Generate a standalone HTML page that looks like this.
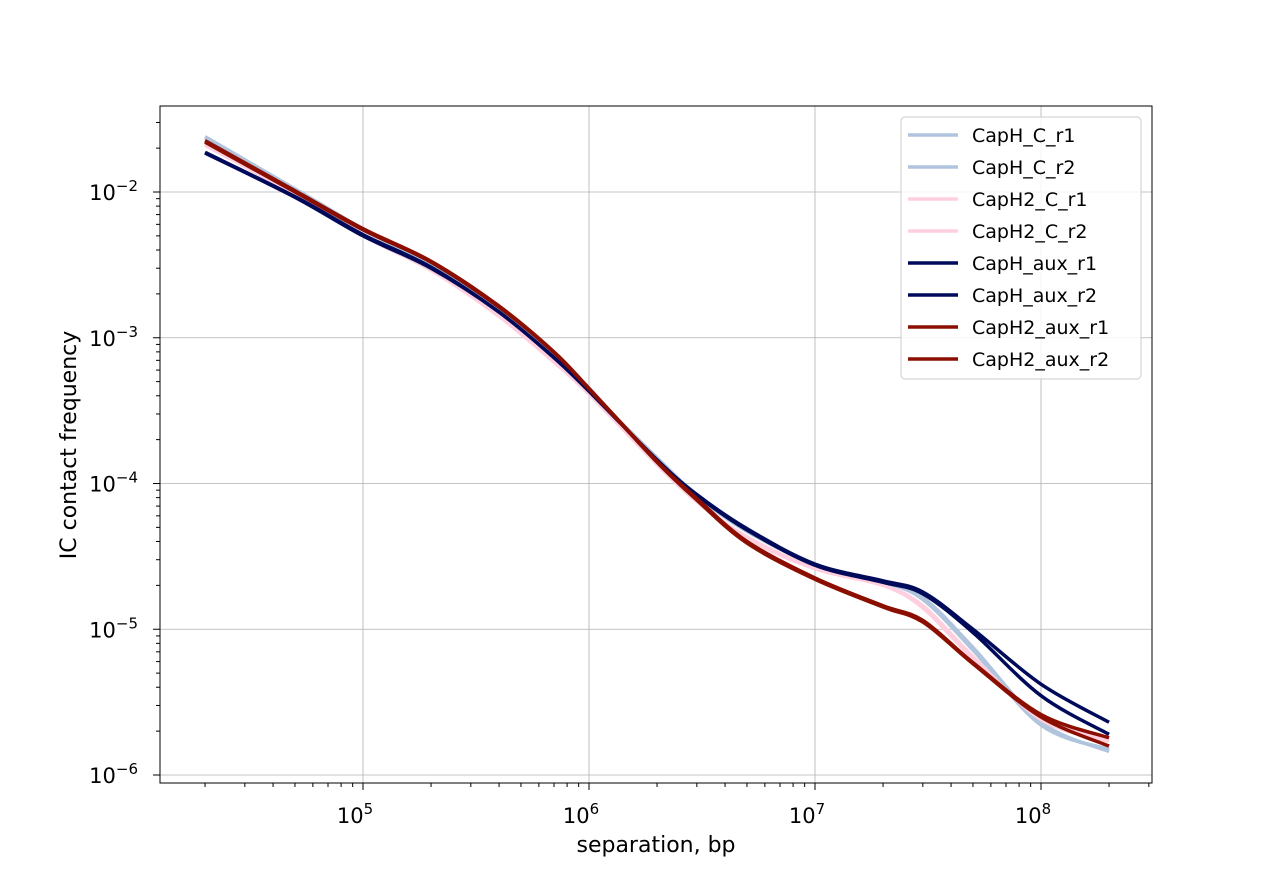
<!DOCTYPE html>
<html><head><meta charset="utf-8"><style>
body{margin:0;background:#fff;}
svg{font-family:"DejaVu Sans","Liberation Sans",sans-serif;}
</style></head><body>
<svg width="1280" height="880" viewBox="0 0 1280 880">
<g id="grid"></g>
<g id="series"></g>
<rect x="160" y="106" width="992" height="677" fill="none" stroke="#000" stroke-width="1"/>
<g id="axes"></g>
<text x="656" y="852" font-size="22" text-anchor="middle">separation, bp</text>
<text transform="translate(76,445) rotate(-90)" font-size="22" text-anchor="middle">IC contact frequency</text>
<g id="legend"></g>
</svg>
<script>
const seriesNames=["CapH_C_r1","CapH_C_r2","CapH2_C_r1","CapH2_C_r2","CapH_aux_r1","CapH_aux_r2","CapH2_aux_r1","CapH2_aux_r2"];
const seriesColors=["#b0c4de","#b0c4de","#ffcfdf","#ffcfdf","#000a5a","#000a5a","#8b0e00","#8b0e00"];
const separations=[2e4,5e4,1e5,2e5,4e5,7e5,1e6,2e6,3e6,5e6,1e7,2e7,3e7,5e7,1e8,2e8];
const capH_C_r1=[2.4e-2,1.05e-2,5.6e-3,3.2e-3,1.55e-3,7.4e-4,4.3e-4,1.5e-4,8.3e-5,4.7e-5,2.8e-5,2.1e-5,1.65e-5,7.5e-6,2.3e-6,1.45e-6];
const capH_C_r2=[2.35e-2,1.04e-2,5.5e-3,3.2e-3,1.55e-3,7.4e-4,4.3e-4,1.5e-4,8.2e-5,4.7e-5,2.8e-5,2.1e-5,1.6e-5,7.2e-6,2.2e-6,1.5e-6];
const capH2_C_r1=[2.1e-2,9.6e-3,5.0e-3,2.9e-3,1.4e-3,6.8e-4,4.1e-4,1.35e-4,7.5e-5,4.2e-5,2.6e-5,2.0e-5,1.45e-5,6.5e-6,2.4e-6,1.7e-6];
const capH2_C_r2=[2.15e-2,9.7e-3,5.1e-3,2.95e-3,1.45e-3,7.0e-4,4.2e-4,1.38e-4,7.6e-5,4.3e-5,2.65e-5,2.0e-5,1.4e-5,6.3e-6,2.5e-6,1.75e-6];
const capH_aux_r1=[1.85e-2,9.2e-3,5.0e-3,3.0e-3,1.5e-3,7.3e-4,4.3e-4,1.45e-4,8.4e-5,4.9e-5,2.8e-5,2.15e-5,1.8e-5,1.0e-5,4.2e-6,2.3e-6];
const capH_aux_r2=[1.87e-2,9.3e-3,5.1e-3,3.05e-3,1.5e-3,7.3e-4,4.3e-4,1.45e-4,8.3e-5,4.8e-5,2.75e-5,2.1e-5,1.75e-5,9.5e-6,3.5e-6,1.9e-6];
const capH2_aux_r1=[2.25e-2,1.02e-2,5.6e-3,3.35e-3,1.65e-3,8.0e-4,4.5e-4,1.42e-4,7.9e-5,4.0e-5,2.25e-5,1.45e-5,1.15e-5,5.9e-6,2.6e-6,1.8e-6];
const capH2_aux_r2=[2.2e-2,1.0e-2,5.5e-3,3.3e-3,1.62e-3,7.9e-4,4.45e-4,1.4e-4,7.7e-5,3.9e-5,2.2e-5,1.42e-5,1.12e-5,5.8e-6,2.5e-6,1.58e-6];
const xTickLabels=["5","6","7","8"];
const yTickLabels=["-2","-3","-4","-5","-6"];

const NS="http://www.w3.org/2000/svg";
function X(v){return 363+(Math.log10(v)-5)*226;}
function Y(v){return 192+(-2-Math.log10(v))*145.75;}
function mk(t,a,p){const e=document.createElementNS(NS,t);for(const k in a)e.setAttribute(k,a[k]);p.appendChild(e);return e;}
const grid=document.getElementById('grid'),axes=document.getElementById('axes');
xTickLabels.forEach(s=>{const x=X(Math.pow(10,+s));
 const g=mk('line',{x1:x,x2:x,y1:106,y2:783,stroke:'#b0b0b0','stroke-width':0.8},grid);
 
 
 mk('line',{x1:x,x2:x,y1:783,y2:790,stroke:'#000'},axes);
 const t=mk('text',{x:x-8,y:823,'font-size':21,'text-anchor':'middle'},axes);
 
 
 t.innerHTML='10<tspan dy="-9" font-size="15">'+s+'</tspan>';
 for(let k=2;k<10;k++){const xm=X(k*Math.pow(10,+s-1));if(xm>160&&xm<1152)mk('line',{x1:xm,x2:xm,y1:783,y2:787,stroke:'#000'},axes);}
});
for(let k=2;k<4;k++){const xm=X(k*1e8);mk('line',{x1:xm,x2:xm,y1:783,y2:787,stroke:'#000'},axes);}
yTickLabels.forEach(s=>{const y=Y(Math.pow(10,+s));
 const g=mk('line',{x1:160,x2:1152,y1:y,y2:y,stroke:'#b0b0b0','stroke-width':0.8},grid);
 
 
 mk('line',{x1:153,x2:160,y1:y,y2:y,stroke:'#000'},axes);
 const t=mk('text',{x:138,y:y+8,'font-size':21,'text-anchor':'end'},axes);
 
 
 t.innerHTML='10<tspan dy="-9" font-size="15">\u2212'+s.slice(1)+'</tspan>';
 for(let k=2;k<10;k++){const ym=Y(k*Math.pow(10,+s));if(ym>106&&ym<783)mk('line',{x1:156,x2:160,y1:ym,y2:ym,stroke:'#000'},axes);}
});
const all=[capH_C_r1,capH_C_r2,capH2_C_r1,capH2_C_r2,capH_aux_r1,capH_aux_r2,capH2_aux_r1,capH2_aux_r2];
const sg=document.getElementById('series');
function path(vals){const p=separations.map((s,i)=>[X(s),Y(vals[i])]);let d='M'+p[0][0]+','+p[0][1];
 for(let i=0;i<p.length-1;i++){const p0=p[Math.max(0,i-1)],p1=p[i],p2=p[i+1],p3=p[Math.min(p.length-1,i+2)];
  d+=' C'+(p1[0]+(p2[0]-p0[0])/6)+','+(p1[1]+(p2[1]-p0[1])/6)+' '+(p2[0]-(p3[0]-p1[0])/6)+','+(p2[1]-(p3[1]-p1[1])/6)+' '+p2[0]+','+p2[1];}
 return d;}
all.forEach((v,i)=>{const e=mk('path',{d:path(v),fill:'none',stroke:seriesColors[i],'stroke-width':3.5},sg);
 
 });
const lg=document.getElementById('legend');
const box=mk('rect',{x:901,y:117,width:240,height:262,rx:4,fill:'#fff','fill-opacity':0.85,stroke:'#ccc'},lg);


seriesNames.forEach((n,i)=>{const y=135+i*32;
 const l=mk('line',{x1:908,x2:958,y1:y,y2:y,stroke:seriesColors[i],'stroke-width':3.5},lg);
 
 
 const t=mk('text',{x:972,y:y+7,'font-size':19},lg);t.textContent=n;
 
 });
</script>
</body></html>
